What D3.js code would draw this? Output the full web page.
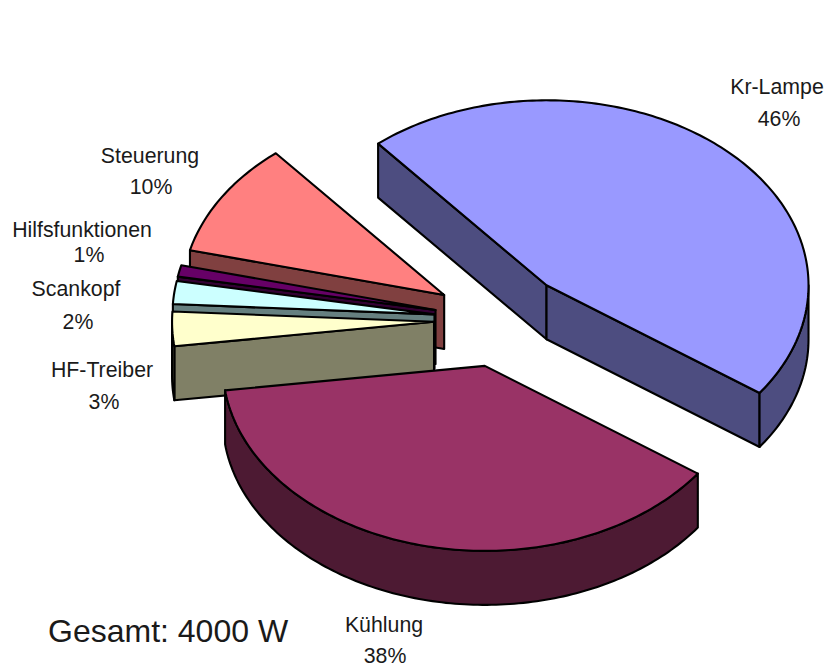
<!DOCTYPE html>
<html>
<head>
<meta charset="utf-8">
<script src="https://cdn.jsdelivr.net/npm/d3@7/dist/d3.min.js"></script>
<style>
  html, body { margin: 0; padding: 0; background: #fff; }
  svg { display: block; }
  text { font-family: "Liberation Sans", Arial, sans-serif; fill: #1a1a1a; }
</style>
</head>
<body>
<svg id="chart" width="825" height="668"></svg>
<script>
// Power budget of the laser system
const categories = ["Kr-Lampe", "Kühlung", "HF-Treiber", "Scankopf", "Hilfsfunktionen", "Steuerung"];
const shares = [46, 38, 3, 2, 1, 10];
const topColours = ["#9999FF", "#993366", "#FFFFCC", "#CCFFFF", "#660066", "#FF8080"];
const wallColours = ["#4D4D80", "#4D1A33", "#808066", "#668080", "#330033", "#804040"];

// Slices nearer the viewer are painted later
const paintOrder = ["Kr-Lampe", "Steuerung", "Hilfsfunktionen", "Scankopf", "HF-Treiber", "Kühlung"];

// Label anchors for each category (name line, percent line)
const labelSpots = [
  [777, 94, 779, 126],
  [384, 632, 385, 663],
  [102, 377, 104, 409],
  [76, 296, 78, 329],
  [82, 237, 89, 262],
  [150, 163, 151, 194]
];
const totalNote = "Gesamt: 4000 W";

// Tilted pie geometry
const centreX = 501, centreY = 320;
const radius = 262, tilt = 0.706, depth = 54, explode = 67;
const TAU = Math.PI * 2;
const startAngle = -40 * Math.PI / 180;

const pie = d3.pie().sort(null).startAngle(startAngle).endAngle(startAngle + TAU);
const arcs = pie(shares);

const svg = d3.select("#chart");
const line = d3.line();

// Ground-plane polar position to screen position, lifted by z pixels downwards
function project(origin, angle, r, z) {
  return [origin[0] + r * Math.sin(angle), origin[1] - r * Math.cos(angle) * tilt + z];
}

function arcPoints(origin, from, to, r, z) {
  const steps = Math.max(2, Math.ceil((to - from) / (Math.PI / 180)));
  return d3.range(steps + 1).map(i => project(origin, from + (to - from) * i / steps, r, z));
}

function drawPolygon(points, fill) {
  svg.append("path")
    .attr("d", line(points) + "Z")
    .attr("fill", fill)
    .attr("stroke", "#000")
    .attr("stroke-width", 2.1)
    .attr("stroke-linejoin", "round");
}

paintOrder.forEach(name => {
  const i = categories.indexOf(name);
  const a = arcs[i];
  const mid = (a.startAngle + a.endAngle) / 2;
  const origin = project([centreX, centreY], mid, explode, 0);
  const wall = wallColours[i];

  // Radial side faces, drawn only when they turn towards the viewer
  const radialFace = angle => {
    const rim = project(origin, angle, radius, 0);
    const rimLow = project(origin, angle, radius, depth);
    drawPolygon([origin, rim, rimLow, [origin[0], origin[1] + depth]], wall);
  };
  if (Math.sin(a.startAngle) < 0) radialFace(a.startAngle);
  if (Math.sin(a.endAngle) > 0) radialFace(a.endAngle);

  // Outer rim, visible across the lower half of the ellipse
  const from = Math.max(a.startAngle, Math.PI / 2);
  const to = Math.min(a.endAngle, Math.PI * 1.5);
  if (from < to) {
    const upper = arcPoints(origin, from, to, radius, 0);
    const lower = arcPoints(origin, from, to, radius, depth).reverse();
    drawPolygon(upper.concat(lower), wall);
  }

  // Top face
  drawPolygon([origin].concat(arcPoints(origin, a.startAngle, a.endAngle, radius, 0)), topColours[i]);
});

// Category and percentage labels
categories.forEach((name, i) => {
  const spot = labelSpots[i];
  svg.append("text").attr("x", spot[0]).attr("y", spot[1])
    .attr("text-anchor", "middle").attr("font-size", 21.3).text(name);
  svg.append("text").attr("x", spot[2]).attr("y", spot[3])
    .attr("text-anchor", "middle").attr("font-size", 21.3).text(shares[i] + "%");
});

svg.append("text").attr("x", 48).attr("y", 642).attr("font-size", 32).text(totalNote);
</script>
</body>
</html>
